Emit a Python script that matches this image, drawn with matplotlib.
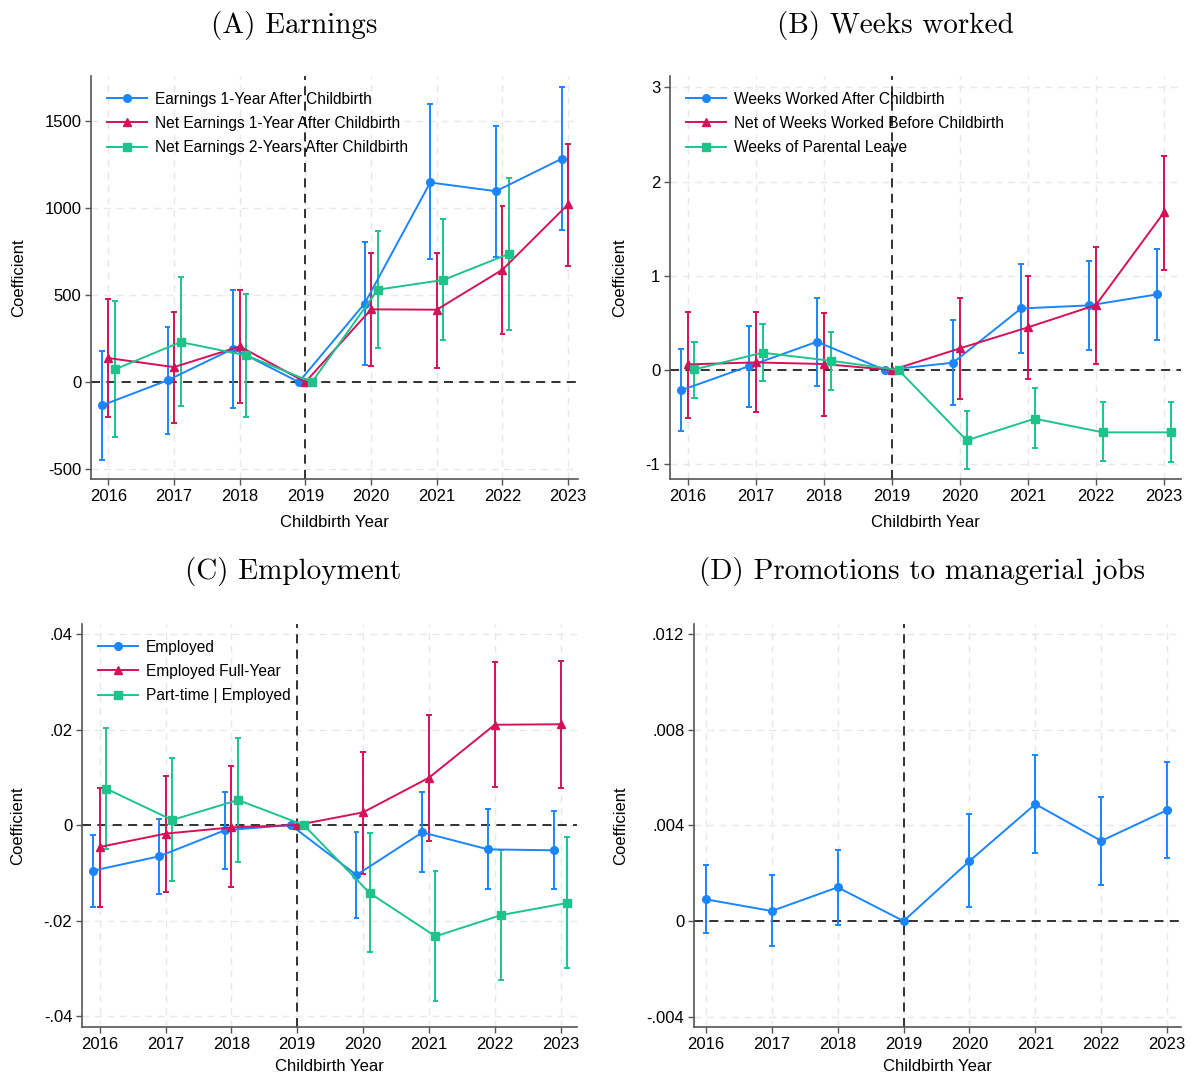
import numpy as np
import matplotlib
matplotlib.use("Agg")
import matplotlib.pyplot as plt

years = [2016, 2017, 2018, 2019, 2020, 2021, 2022, 2023]

# (A) Earnings
earn1 = [-134, 10, 192, 0, 451, 1147, 1097, 1283]
earn1_lo = [-445, -297, -150, 0, 96, 706, 719, 873]
earn1_hi = [176, 316, 527, 0, 806, 1596, 1471, 1697]
net1 = [138, 86, 205, 0, 418, 416, 646, 1022]
net1_lo = [-201, -234, -121, 0, 90, 82, 278, 667]
net1_hi = [476, 403, 527, 0, 744, 742, 1013, 1369]
net2 = [73, 230, 153, 0, 531, 587, 737]
net2_lo = [-316, -138, -201, 0, 196, 242, 301]
net2_hi = [466, 604, 504, 0, 869, 936, 1174]

# (B) Weeks worked
wk_after = [-0.216, 0.042, 0.30, 0, 0.078, 0.654, 0.686, 0.803]
wk_after_lo = [-0.651, -0.393, -0.166, 0, -0.371, 0.184, 0.216, 0.322]
wk_after_hi = [0.219, 0.47, 0.764, 0, 0.531, 1.125, 1.157, 1.288]
wk_net = [0.06, 0.081, 0.064, 0, 0.23, 0.453, 0.69, 1.673]
wk_net_lo = [-0.506, -0.449, -0.485, 0, -0.308, -0.096, 0.064, 1.061]
wk_net_hi = [0.619, 0.619, 0.601, 0, 0.768, 0.994, 1.302, 2.274]
wk_leave = [0.007, 0.184, 0.099, 0, -0.746, -0.516, -0.661, -0.661]
wk_leave_lo = [-0.294, -0.117, -0.209, 0, -1.047, -0.831, -0.969, -0.976]
wk_leave_hi = [0.297, 0.485, 0.407, 0, -0.435, -0.191, -0.343, -0.336]

# (C) Employment
emp = [-0.00956, -0.00656, -0.0011, 0, -0.01047, -0.00154, -0.0051, -0.0053]
emp_lo = [-0.0171, -0.01445, -0.00928, 0, -0.0194, -0.00984, -0.0134, -0.01347]
emp_hi = [-0.0020, 0.00133, 0.00684, 0, -0.00154, 0.00684, 0.00328, 0.00286]
emp_fy = [-0.0046, -0.0018, -0.0005, 0, 0.00265, 0.0099, 0.021, 0.0211]
emp_fy_lo = [-0.01717, -0.01396, -0.013, 0, -0.0102, -0.00335, 0.00796, 0.00775]
emp_fy_hi = [0.00775, 0.0103, 0.0123, 0, 0.01536, 0.0231, 0.03406, 0.03434]
pt = [0.0076, 0.00105, 0.00524, 0, -0.01424, -0.02331, -0.01885, -0.01633]
pt_lo = [-0.0051, -0.0118, -0.00768, 0, -0.02666, -0.03692, -0.0324, -0.02994]
pt_hi = [0.0204, 0.01396, 0.0183, 0, -0.00168, -0.00956, -0.00517, -0.00258]

# (D) Promotions
prom = [0.000908, 0.00042, 0.00141, 0, 0.00251, 0.00489, 0.00335, 0.00464]
prom_lo = [-0.0005, -0.00106, -0.00015, 0, 0.00057, 0.00284, 0.00151, 0.00265]
prom_hi = [0.00235, 0.00191, 0.00298, 0, 0.00448, 0.00694, 0.0052, 0.00665]

yt_a = [-500, 0, 500, 1000, 1500]
yl_a = ["-500", "0", "500", "1000", "1500"]
yt_b = [-1, 0, 1, 2, 3]
yl_b = ["-1", "0", "1", "2", "3"]
yt_c = [-0.04, -0.02, 0, 0.02, 0.04]
yl_c = ["-.04", "-.02", "0", ".02", ".04"]
yt_d = [-0.004, 0, 0.004, 0.008, 0.012]
yl_d = ["-.004", "0", ".004", ".008", ".012"]

BLUE = "#1a85ff"
RED = "#d41159"
GREEN = "#1ec38a"

plt.rcParams["font.family"] = ["Liberation Sans", "DejaVu Sans"]

fig = plt.figure(figsize=(11.91, 10.75), dpi=100)
W, H = 1191, 1075


def add_ax(l, r, t, b):
    return fig.add_axes([l / W, 1 - b / H, (r - l) / W, (b - t) / H])


def series(ax, x, y, lo, hi, color, marker, label, ms):
    x = np.asarray(x, float)
    ax.vlines(x, lo, hi, color=color, lw=1.4, zorder=3)
    cw = 0.045
    ax.hlines(lo, x - cw, x + cw, color=color, lw=1.4, zorder=3)
    ax.hlines(hi, x - cw, x + cw, color=color, lw=1.4, zorder=3)
    ax.plot(x, y, color=color, marker=marker, ms=ms, lw=1.4, label=label, zorder=4)


def style(ax, xlim, ylim, yt, yl, xpad=8):
    ax.set_xlim(*xlim)
    ax.set_ylim(*ylim)
    ax.set_xticks(years)
    ax.set_xticklabels([str(y) for y in years], fontsize=12)
    ax.set_yticks(yt)
    ax.set_yticklabels(yl, fontsize=12)
    ax.grid(True, color="#e8e8e8", ls=(0, (5, 4)), lw=1.0, zorder=0)
    for s in ["top", "right"]:
        ax.spines[s].set_visible(False)
    for s in ["left", "bottom"]:
        ax.spines[s].set_color("#555555")
        ax.spines[s].set_linewidth(1.2)
    ax.tick_params(length=4, width=1, color="#555555", pad=3)
    ax.axhline(0, color="#222222", ls=(0, (5, 3.5)), lw=1.3, zorder=2)
    ax.axvline(2019, color="#222222", ls=(0, (5, 3.5)), lw=1.3, zorder=2)
    ax.set_xlabel("Childbirth Year", fontsize=12, labelpad=xpad)
    ax.set_ylabel("Coefficient", fontsize=12, labelpad=13)


def legend(ax):
    ax.legend(loc="upper left", frameon=False, fontsize=11.2, handlelength=2.6,
              handletextpad=0.5, labelspacing=0.6, borderaxespad=0.6,
              bbox_to_anchor=(0.0, 1.0))


xs = np.array(years, float)

# Panel A
axA = add_ax(91, 578, 76, 479)
series(axA, xs - 0.1, earn1, earn1_lo, earn1_hi, BLUE, "o", "Earnings 1-Year After Childbirth", 5.5)
series(axA, xs, net1, net1_lo, net1_hi, RED, "^", "Net Earnings 1-Year After Childbirth", 6)
series(axA, xs[:7] + 0.1, net2, net2_lo, net2_hi, GREEN, "s", "Net Earnings 2-Years After Childbirth", 5.5)
style(axA, (2015.735, 2023.15), (-557, 1759), yt_a, yl_a)
legend(axA)

# Panel B
axB = add_ax(670, 1181, 76, 479)
series(axB, xs - 0.1, wk_after, wk_after_lo, wk_after_hi, BLUE, "o", "Weeks Worked After Childbirth", 5.5)
series(axB, xs, wk_net, wk_net_lo, wk_net_hi, RED, "^", "Net of Weeks Worked Before Childbirth", 6)
series(axB, xs + 0.1, wk_leave, wk_leave_lo, wk_leave_hi, GREEN, "s", "Weeks of Parental Leave", 5.5)
style(axB, (2015.74, 2023.25), (-1.156, 3.12), yt_b, yl_b)
legend(axB)

# Panel C
axC = add_ax(82, 577, 624, 1027)
series(axC, xs - 0.1, emp, emp_lo, emp_hi, BLUE, "o", "Employed", 5.5)
series(axC, xs, emp_fy, emp_fy_lo, emp_fy_hi, RED, "^", "Employed Full-Year", 6)
series(axC, xs + 0.1, pt, pt_lo, pt_hi, GREEN, "s", "Part-time | Employed", 5.5)
style(axC, (2015.73, 2023.25), (-0.0423, 0.0421), yt_c, yl_c, xpad=5)
legend(axC)

# Panel D
axD = add_ax(694, 1181, 624, 1027)
series(axD, xs, prom, prom_lo, prom_hi, BLUE, "o", "Promotions", 5.5)
style(axD, (2015.82, 2023.21), (-0.00443, 0.01242), yt_d, yl_d, xpad=5)

titles = ["(A) Earnings", "(B) Weeks worked", "(C) Employment",
          "(D) Promotions to managerial jobs"]
tpos = [(294, 25), (895, 25), (293, 572), (922, 572)]
for t, (px, py) in zip(titles, tpos):
    fig.text(px / W, 1 - py / H, t, fontsize=21, family="cmr10",
             ha="center", va="center")

fig.savefig("out.png", dpi=100, facecolor="white")
